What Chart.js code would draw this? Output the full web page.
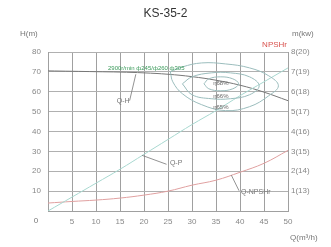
<!DOCTYPE html>
<html><head><meta charset="utf-8">
<script src="https://cdn.jsdelivr.net/npm/chart.js@4/dist/chart.umd.min.js"></script>
<style>html,body{margin:0;padding:0;background:#fff}#w{width:331px;height:247px;position:relative}</style>
</head><body><div id="w"><canvas id="c"></canvas></div>
<script>
const chartTitle = 'KS-35-2';
const flowQ   = [0, 5, 10, 15, 20, 25, 30, 35, 40, 45, 50];
const headH   = [70.5, 70.3, 70.1, 69.9, 69.5, 68.8, 67.6, 65.8, 63.3, 59.8, 55.5];
const powerKW = [12.0, 12.7, 13.4, 14.1, 14.85, 15.6, 16.35, 17.05, 17.8, 18.5, 19.2];
const npshR   = [0.4, 0.48, 0.55, 0.65, 0.8, 1.0, 1.3, 1.55, 1.95, 2.4, 3.05];
// efficiency iso-curves (Q, H)
const effInnerQ = [32.5, 33.5, 36, 38.5, 39.7, 38.5, 36, 33.5, 32.5];
const effInnerH = [64, 66.5, 67.5, 66.5, 64, 61.5, 60.5, 61.5, 64];
const effMidQ = [28, 30, 34, 38, 42, 44, 42, 38, 34, 30, 28];
const effMidH = [64, 67.5, 69.5, 69.5, 67.5, 63, 58.5, 56.5, 56.5, 58.5, 64];
const effOutQ = [25.5, 28, 32, 37, 42, 46, 48, 46, 42, 37, 32, 28, 26, 25.5];
const effOutH = [70, 72.5, 74.5, 74, 72, 68, 63, 58, 52.5, 50.5, 53.5, 59, 65, 70];
const effLabels = ['η68%', 'η66%', 'η65%'];
const speedText = '2900r/min ф245/ф260 ф305';

const pts = (xs, ys) => xs.map((x, i) => ({x, y: ys[i]}));
const lineDs = (data, color, axis, w) => ({data, borderColor: color, borderWidth: w || 1, showLine: true,
  pointRadius: 0, tension: 0.4, fill: false, yAxisID: axis});

const FONT = '"Liberation Sans", Arial, sans-serif';
const extras = {
  id: 'extras',
  afterDatasetsDraw(chart) {
    const ctx = chart.ctx, sx = chart.scales.x, sy = chart.scales.y;
    const X = v => sx.getPixelForValue(v), Y = v => sy.getPixelForValue(v);
    ctx.save();
    ctx.font = '8px ' + FONT;
    ctx.textBaseline = 'middle';
    ctx.fillStyle = '#777';
    ctx.textAlign = 'left';
    ctx.fillText('H(m)', 20, 34);
    ctx.fillText('m(kw)', 292, 34);
    ctx.fillText('Q(m³/h)', 290, 238);
    ctx.textAlign = 'center';
    ctx.fillText('0', 36, 221);
    ctx.fillStyle = '#d9534f';
    ctx.textAlign = 'right';
    ctx.fillText('NPSHr', sx.right - 1, 45);
    // speed text
    ctx.font = '6px ' + FONT;
    ctx.fillStyle = '#3a9a5a';
    ctx.textAlign = 'left';
    ctx.fillText(speedText, X(12.5), Y(71.6));
    // efficiency labels
    ctx.fillStyle = '#666';
    ctx.textAlign = 'center';
    ctx.fillText(effLabels[0], X(36), Y(64));
    ctx.fillText(effLabels[1], X(36), Y(57.5));
    ctx.fillText(effLabels[2], X(36), Y(52));
    // curve labels + leaders
    ctx.font = '7px ' + FONT;
    ctx.fillStyle = '#777';
    ctx.strokeStyle = '#777';
    ctx.lineWidth = 0.8;
    ctx.textAlign = 'right';
    ctx.fillText('Q-H', X(17), Y(55.5));
    ctx.beginPath(); ctx.moveTo(X(17), Y(55.5)); ctx.lineTo(X(18.3), Y(68.8)); ctx.stroke();
    ctx.textAlign = 'left';
    ctx.fillText('Q-P', X(25.4), Y(24));
    ctx.beginPath(); ctx.moveTo(X(19.6), Y(28)); ctx.lineTo(X(24.7), Y(23.5)); ctx.stroke();
    ctx.fillText('Q-NPSHr', X(40.2), Y(9.5));
    ctx.beginPath(); ctx.moveTo(X(38.2), Y(18)); ctx.lineTo(X(39.8), Y(10.2)); ctx.stroke();
    ctx.restore();
  }
};

new Chart(document.getElementById('c'), {
  type: 'scatter',
  data: { datasets: [
    lineDs(pts(effOutQ, effOutH), '#9bbdbd', 'y'),
    lineDs(pts(effMidQ, effMidH), '#9bbdbd', 'y'),
    lineDs(pts(effInnerQ, effInnerH), '#9bbdbd', 'y'),
    lineDs(pts(flowQ, powerKW), '#a8d8d0', 'yP'),
    lineDs(pts(flowQ, npshR), '#e0a0a0', 'y2'),
    lineDs(pts(flowQ, headH), '#777', 'y'),
  ]},
  options: {
    responsive: true, maintainAspectRatio: false, animation: false,
    layout: { padding: 0 },
    plugins: {
      legend: { display: false }, tooltip: { enabled: false },
      title: { display: true, text: chartTitle, color: '#333', font: { size: 12, family: FONT, weight: 'normal' },
        padding: { top: 6, bottom: 31.6 } }
    },
    scales: {
      x: { type: 'linear', min: 0, max: 50,
        ticks: { stepSize: 5, color: '#888', font: { size: 8, family: FONT }, padding: 6,
          callback: v => v === 0 ? '' : String(v) },
        grid: { color: '#a0a0a0', drawTicks: false }, border: { color: '#a0a0a0' },
        afterFit: s => { s.height = 36; } },
      y: { position: 'left', min: 0, max: 80,
        ticks: { stepSize: 5, color: '#888', font: { size: 8, family: FONT }, padding: 7,
          callback: v => (v % 10 === 0 && v > 0) ? String(v) : '' },
        grid: { color: '#b0b0b0', drawTicks: false }, border: { color: '#a0a0a0' },
        afterFit: s => { s.width = 48; } },
      y2: { position: 'right', min: 0, max: 8,
        ticks: { stepSize: 1, color: '#888', font: { size: 8, family: FONT }, padding: 3,
          callback: v => v > 0 ? `${v}(${v + 12})` : '' },
        grid: { display: false, drawTicks: false }, border: { display: false },
        afterFit: s => { s.width = 43; } },
      yP: { display: false, min: 12, max: 20 }
    }
  },
  plugins: [extras]
});
</script></body></html>
